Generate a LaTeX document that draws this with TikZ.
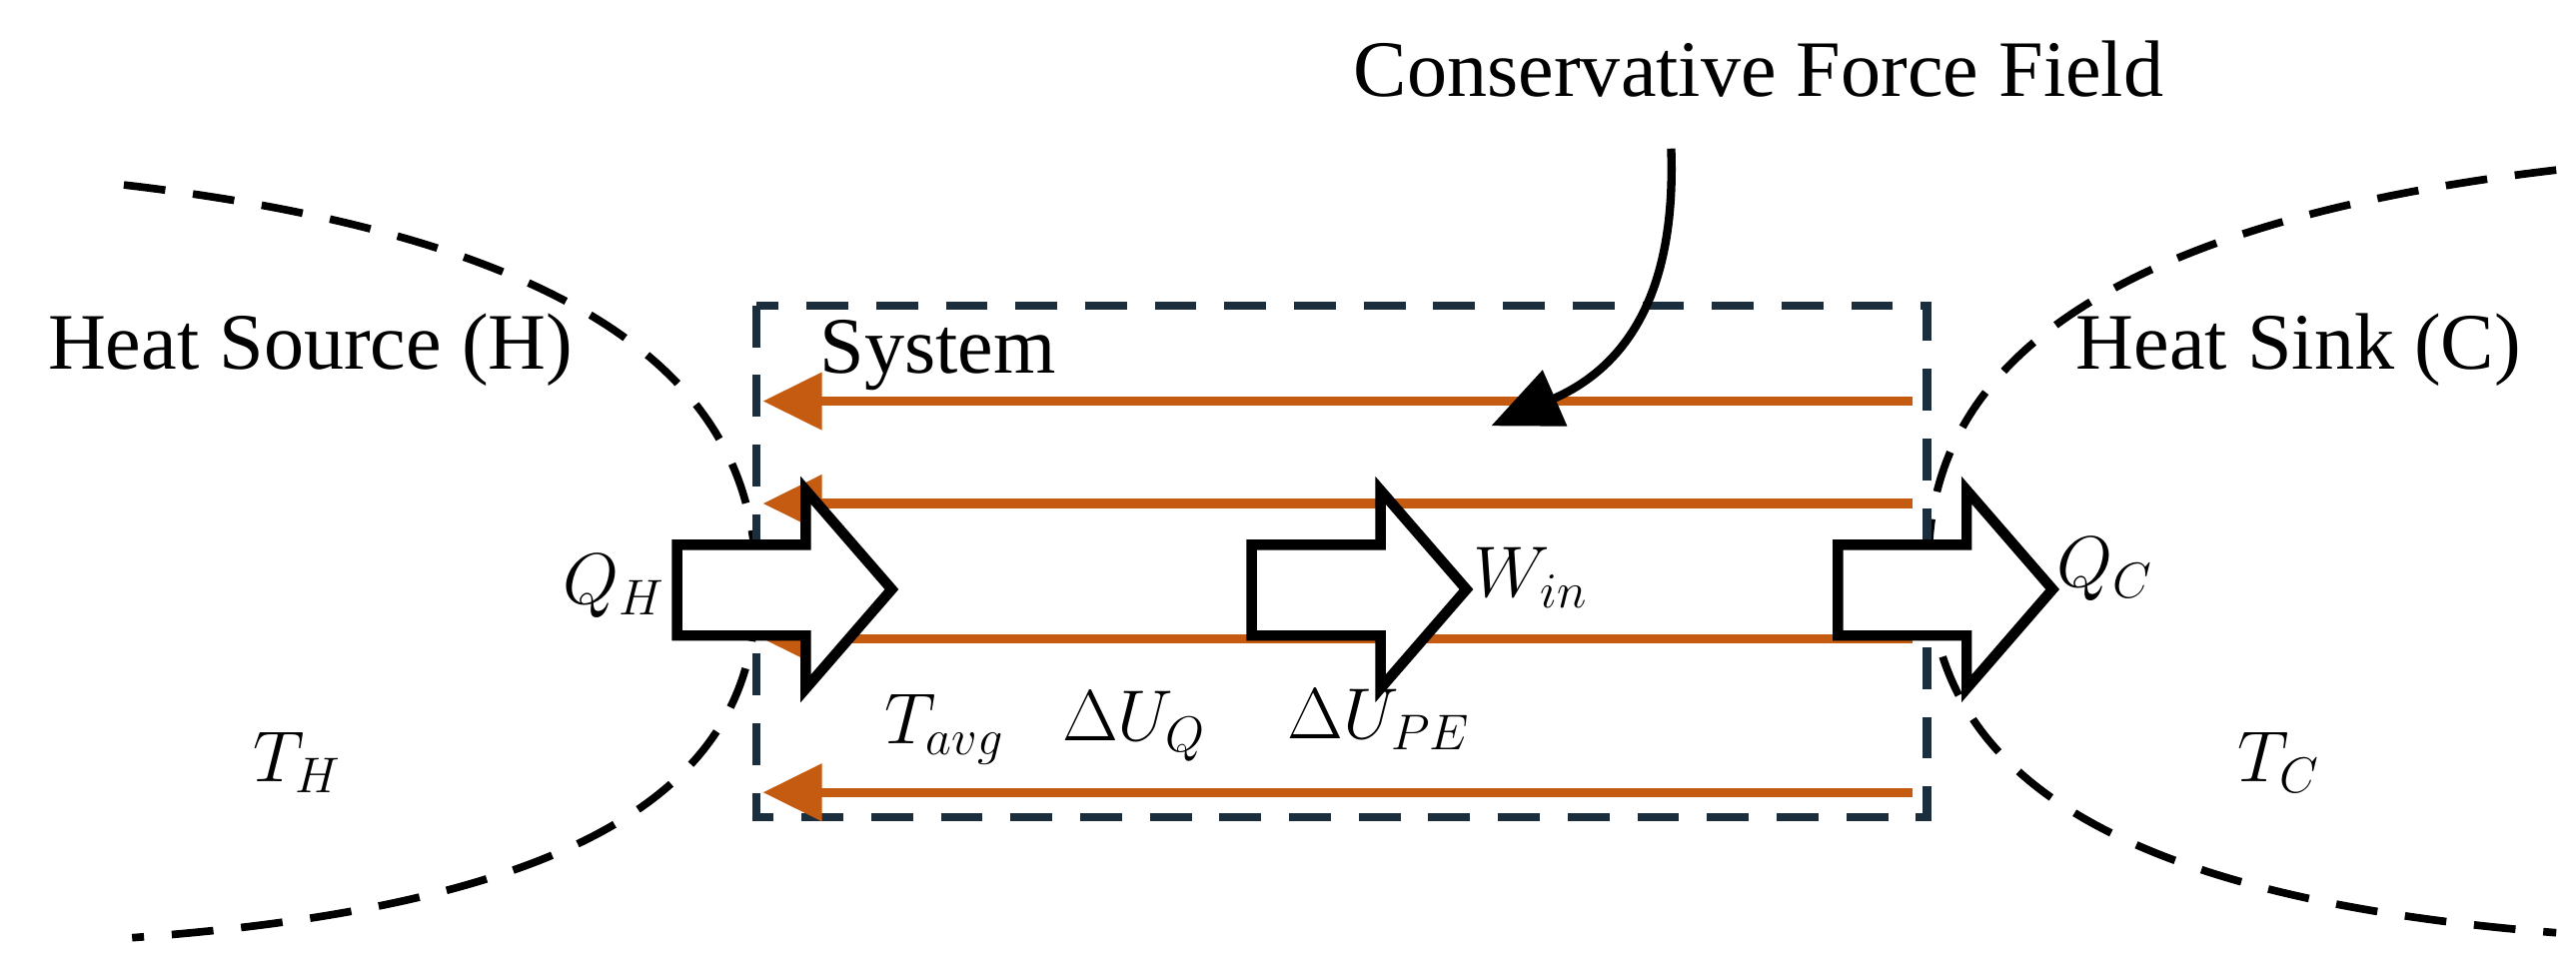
\documentclass[tikz,border=0pt]{standalone}
\usepackage{fontspec}
\setmainfont{Liberation Serif}
\usetikzlibrary{arrows.meta}
\definecolor{boxc}{HTML}{1A2E3E}
\definecolor{orng}{HTML}{C55A11}
\begin{document}
\begin{tikzpicture}[x=1cm/60,y=-1cm/60,
  lbl/.style={font=\fontsize{23}{27}\selectfont, inner sep=0pt},
  mlbl/.style={font=\fontsize{21}{25}\selectfont, inner sep=0pt},
  flow/.style={orng, line width=2.6pt, -{Triangle[length=17pt,width=16pt]}},
  bnd/.style={black, line width=2.2pt, dash pattern=on 12pt off 8pt},
  block/.style={draw=black, fill=white, line width=3pt, line join=miter}]
\useasboundingbox (0,0) rectangle (1560,591);
% boundaries
\draw[bnd] (75,112) .. controls (400,150) and (458,260) .. (458,355) .. controls (458,450) and (400,545) .. (80,568);
\draw[bnd] (1548,103) .. controls (1230,140) and (1168,250) .. (1168,340) .. controls (1168,440) and (1230,540) .. (1548,565);
% system box
\draw[boxc, line width=2.4pt, dash pattern=on 12pt off 8pt] (458,185) rectangle (1167,495);
% orange flows
\foreach \n/\y in {a/243,b/305,c/387,d/480}{
  \coordinate (s\n) at (1158,\y); \coordinate (e\n) at (462,\y);
  \draw[flow] (s\n) -- (e\n);}
% block arrows
\newcommand\blk[2]{\draw[block] (#1,330) -- (#1+78,330) -- (#1+78,297) -- (#1+130,357) -- (#1+78,417) -- (#1+78,385) -- (#1,385) -- cycle;}
\blk{410}{qh}
\blk{758}{w}
\blk{1113}{qc}
% labels
\node[lbl] (hs) at (188,212) {Heat Source (H)};
\node[lbl] (sys) at (568,215) {System};
\node[lbl] (hk) at (1392,212) {Heat Sink (C)};
\node[lbl] (cff) at (1065,42) {Conservative Force Field};
\node[mlbl] (qH) at (372,355) {$Q_H$};
\node[mlbl] (win) at (927,350) {$W_{in}$};
\node[mlbl] (qC) at (1275,345) {$Q_C$};
\node[mlbl] (tH) at (180,462) {$T_H$};
\node[mlbl] (tav) at (572,442) {$T_{avg}$};
\node[mlbl] (duq) at (687,440) {$\Delta U_Q$};
\node[mlbl] (dupe) at (835,436) {$\Delta U_{PE}$};
\node[mlbl] (tC) at (1380,462) {$T_C$};
% curved arrow
\coordinate (ctip) at (903,258);
\draw[black, line width=2.4pt, -{Triangle[length=20pt,width=17pt]}] (1012,90) .. controls (1015,170) and (990,220) .. (ctip);
\end{tikzpicture}
\end{document}
